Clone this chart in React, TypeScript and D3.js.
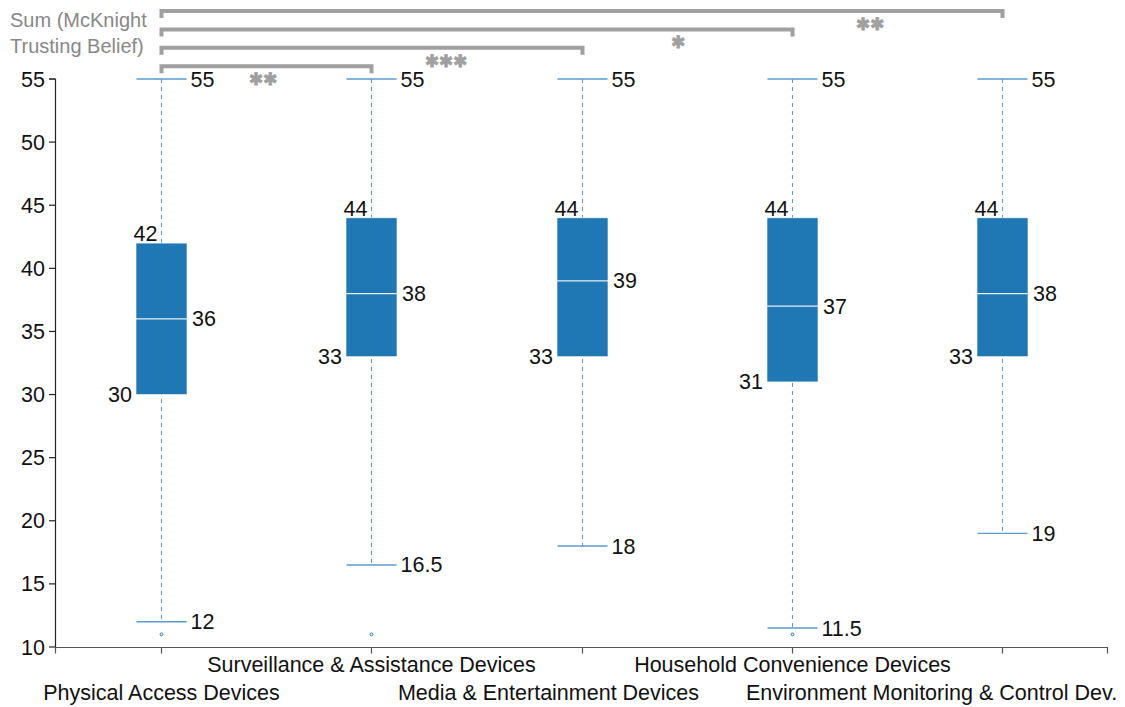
import React from "react";
import * as d3 from "d3";

const categories = [
  "Physical Access Devices",
  "Surveillance & Assistance Devices",
  "Media & Entertainment Devices",
  "Household Convenience Devices",
  "Environment Monitoring & Control Dev.",
];
const mins = [12, 16.5, 18, 11.5, 19];
const q1s = [30, 33, 33, 31, 33];
const medians = [36, 38, 39, 37, 38];
const q3s = [42, 44, 44, 44, 44];
const maxs = [55, 55, 55, 55, 55];
const outliers: (number | null)[] = [11, 11, null, 11, null];
const yTicks = [10, 15, 20, 25, 30, 35, 40, 45, 50, 55];
const titleLines = ["Sum (McKnight", "Trusting Belief)"];
// significance comparisons: from category 0 to target
const sigTargets = [4, 3, 2, 1];
const sigLabels = ["✱✱", "✱", "✱✱✱", "✱✱"];

// layout-only: horizontal label shifts and star positions
const labelShift = [0, 0, -34, 0, -71];
const sigLabelX = [870, 678, 446, 263];

const W = 1125;
const H = 707;
const FONT = "'Liberation Sans', Arial, sans-serif";
const BLUE = "#1f77b4";
const WHISK = "#5a9bd2";
const GRAY = "#a0a0a0";
const FS = 21.5;

export default function App() {
  const x = d3.scaleBand<string>().domain(categories).range([55.5, 1107.5]).padding(0);
  const y = d3.scaleLinear().domain([10, 55]).range([647, 79]);
  const cx = (i: number) => Math.round((x(categories[i]) as number) + x.bandwidth() / 2) + 0.5;
  const boxW = 51;
  const capW = 50;
  const axisY = Math.round(y(10)) + 0.5;

  return (
    <svg
      width={W}
      height={H}
      style={{ position: "absolute", left: 0, top: 0, background: "#fff" }}
      fontFamily={FONT}
    >
      {/* title */}
      {titleLines.map((t, i) => (
        <text key={t} x={10} y={27 + i * 26} fontSize={20} fill="#888">
          {t}
        </text>
      ))}

      {/* y axis */}
      <path
        d={`M49,${y(55)}H55.5V${axisY}`}
        fill="none"
        stroke="#222"
        strokeWidth={1.2}
      />
      {yTicks.map((t) => (
        <g key={t} transform={`translate(0,${y(t)})`}>
          <line x1={49} x2={55} stroke="#222" strokeWidth={1.2} />
          <text x={45} dy="0.35em" textAnchor="end" fontSize={FS} fill="#111">
            {t}
          </text>
        </g>
      ))}

      {/* x axis */}
      <path
        d={`M55.5,${axisY + 6}V${axisY}H1107.5V${axisY + 6}`}
        fill="none"
        stroke="#555"
        strokeWidth={1.2}
      />
      {categories.map((c, i) => (
        <g key={c}>
          <line x1={cx(i)} x2={cx(i)} y1={axisY} y2={axisY + 6} stroke="#555" strokeWidth={1.2} />
          <text
            x={cx(i) + labelShift[i]}
            y={i % 2 === 1 ? 671.5 : 699.5}
            textAnchor="middle"
            fontSize={FS}
            fill="#111"
          >
            {c}
          </text>
        </g>
      ))}

      {/* boxes */}
      {categories.map((c, i) => {
        const X = cx(i);
        return (
          <g key={c}>
            <line
              x1={X}
              x2={X}
              y1={y(maxs[i])}
              y2={y(mins[i])}
              stroke={WHISK}
              strokeWidth={1}
              strokeDasharray="4,4"
            />
            <line x1={X - capW / 2} x2={X + capW / 2} y1={y(maxs[i])} y2={y(maxs[i])} stroke={WHISK} strokeWidth={1.4} />
            <line x1={X - capW / 2} x2={X + capW / 2} y1={y(mins[i])} y2={y(mins[i])} stroke={WHISK} strokeWidth={1.4} />
            <rect
              x={X - boxW / 2}
              y={y(q3s[i])}
              width={boxW}
              height={y(q1s[i]) - y(q3s[i])}
              fill={BLUE}
              stroke="#fff"
              strokeWidth={0.6}
            />
            <line
              x1={X - boxW / 2}
              x2={X + boxW / 2}
              y1={y(medians[i])}
              y2={y(medians[i])}
              stroke="#e8eef5"
              strokeWidth={1.2}
            />
            {outliers[i] !== null && (
              <circle cx={X} cy={y(outliers[i] as number)} r={1.4} fill="#fff" stroke={BLUE} strokeWidth={1} />
            )}
            <text x={X + capW / 2 + 4} y={y(maxs[i])} dy="0.35em" fontSize={FS} fill="#111">
              {maxs[i]}
            </text>
            <text x={X + capW / 2 + 4} y={y(mins[i])} dy="0.35em" fontSize={FS} fill="#111">
              {mins[i]}
            </text>
            <text x={X + boxW / 2 + 5} y={y(medians[i])} dy="0.35em" fontSize={FS} fill="#111">
              {medians[i]}
            </text>
            <text x={X - boxW / 2 - 4} y={y(q1s[i])} dy="0.35em" textAnchor="end" fontSize={FS} fill="#111">
              {q1s[i]}
            </text>
            <text x={X - 4} y={y(q3s[i]) - 2} textAnchor="end" fontSize={FS} fill="#111">
              {q3s[i]}
            </text>
          </g>
        );
      })}

      {/* significance brackets */}
      {sigTargets.map((t, k) => {
        const by = 11 + k * 18.4;
        const x0 = cx(0);
        const x1 = cx(t);
        return (
          <g key={k}>
            <path
              d={`M${x0},${by + 7}V${by}H${x1}V${by + 7}`}
              fill="none"
              stroke={GRAY}
              strokeWidth={4}
            />
            <text
              x={sigLabelX[k]}
              y={by + 13}
              dy="0.35em"
              textAnchor="middle"
              fontSize={17}
              fill={GRAY}
              stroke={GRAY}
              strokeWidth={0.8}
              fontFamily="'DejaVu Sans', sans-serif"
            >
              {sigLabels[k]}
            </text>
          </g>
        );
      })}
    </svg>
  );
}
